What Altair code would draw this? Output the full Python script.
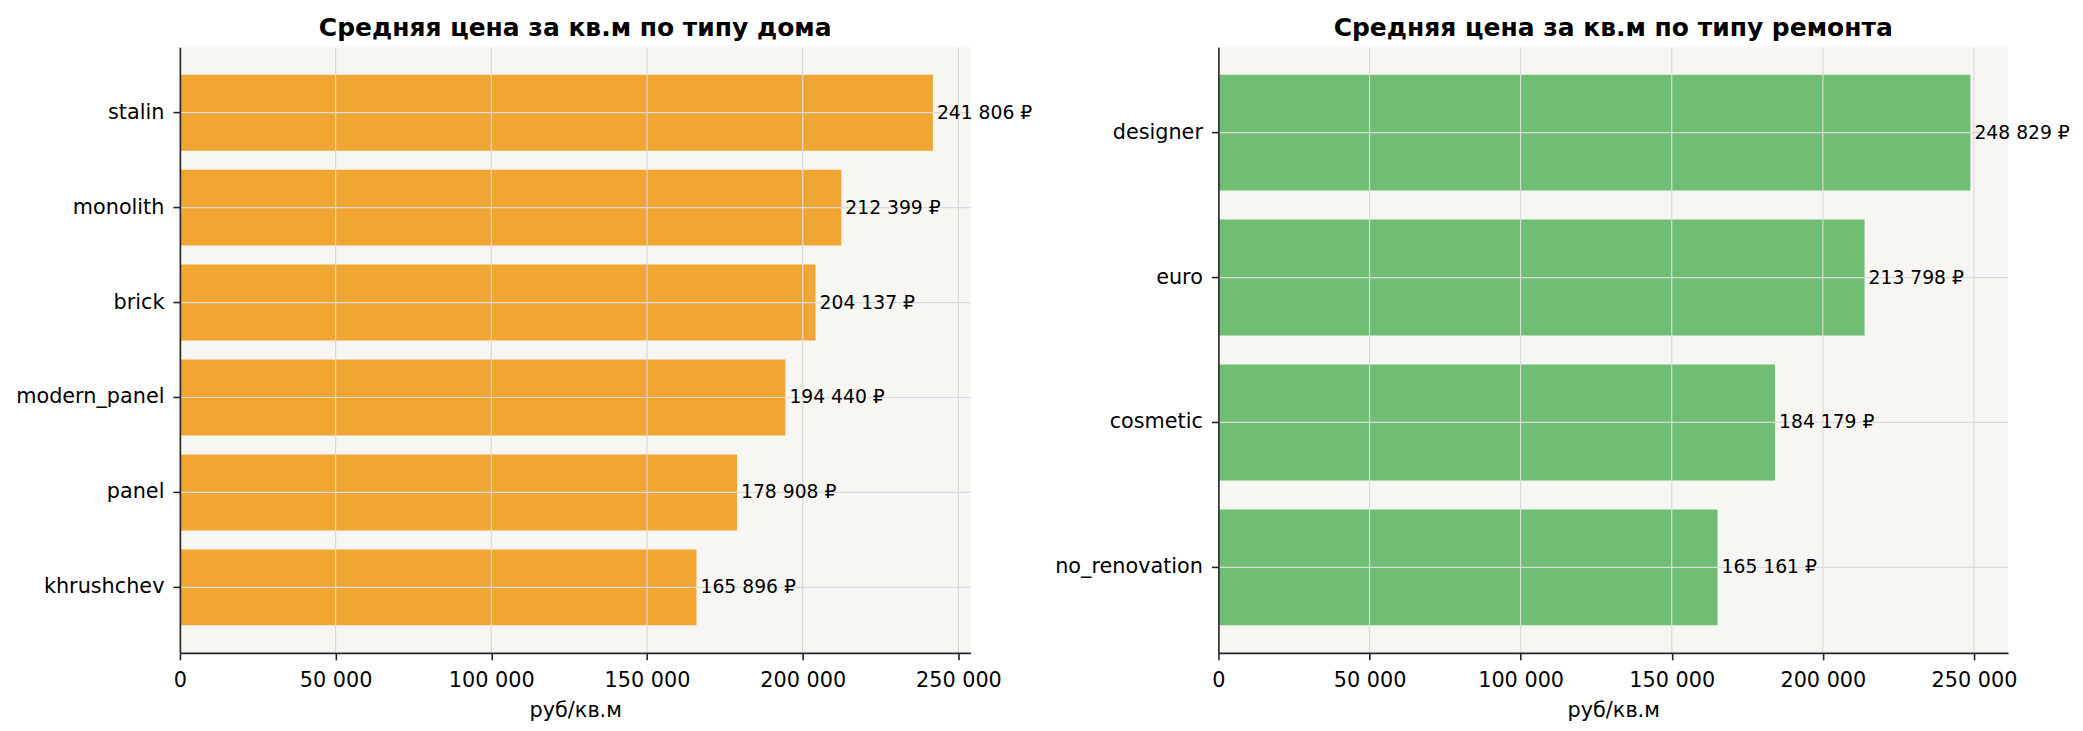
import altair as alt
import pandas as pd

house_types = ["stalin", "monolith", "brick", "modern_panel", "panel", "khrushchev"]
house_prices = [241806, 212399, 204137, 194440, 178908, 165896]
renov_types = ["designer", "euro", "cosmetic", "no_renovation"]
renov_prices = [248829, 213798, 184179, 165161]
x_ticks = [0, 50000, 100000, 150000, 200000, 250000]

FONT = "DejaVu Sans"
ORANGE = "#F1A533"
GREEN = "#6FBE73"
BG = "#F7F6F3"
GRID = "#DADADA"
H = 606


def fmt(v):
    return f"{v:,}".replace(",", " ") + " ₽"


def panel(cats, vals, color, title, width):
    n = len(cats)
    po = 0.05 * n - 0.01
    xmax = max(vals) * 1.05
    df = pd.DataFrame({"cat": cats, "val": vals, "lab": [fmt(v) for v in vals]})
    ticks_df = pd.DataFrame({"t": x_ticks})
    y = alt.Y(
        "cat:N",
        sort=cats,
        title=None,
        scale=alt.Scale(paddingInner=0.2, paddingOuter=po),
        axis=alt.Axis(grid=False, bandPosition=0.5, labelPadding=9, zindex=1),
    )
    x = alt.X(
        "val:Q",
        title="руб/кв.м",
        scale=alt.Scale(domain=[0, xmax], nice=False, zero=True),
        axis=alt.Axis(
            values=x_ticks,
            grid=False,
            labelExpr="replace(format(datum.value, ','), ',', ' ')",
            labelFlush=False,
            labelPadding=11,
            titlePadding=10,
            zindex=1,
        ),
    )
    base = alt.Chart(df)
    bars = base.mark_bar(color=color).encode(y=y, x=x)
    vgrid = alt.Chart(ticks_df).mark_rule(color=GRID, strokeWidth=1.2).encode(
        x=alt.X("t:Q")
    )
    hgrid = base.mark_rule(color=GRID, strokeWidth=1.2).encode(
        y=alt.Y("cat:N", sort=cats)
    )
    text = base.mark_text(
        align="left", baseline="middle", dx=4, font=FONT, fontSize=18.75, color="black"
    ).encode(y=alt.Y("cat:N", sort=cats), x=alt.X("val:Q"), text="lab:N")
    return alt.layer(bars, vgrid, hgrid, text).properties(
        width=width, height=H, title=alt.TitleParams(title)
    )


left = panel(house_types, house_prices, ORANGE, "Средняя цена за кв.м по типу дома", 791)
right = panel(renov_types, renov_prices, GREEN, "Средняя цена за кв.м по типу ремонта", 790)

chart = (
    alt.hconcat(left, right, spacing=248, bounds="flush")
    .properties(padding={"left": 7, "top": 7, "right": 5, "bottom": 5})
    .configure_view(fill=BG, strokeWidth=0)
    .configure_axis(
        domainColor="#262626",
        domainWidth=1.6,
        tickColor="#262626",
        tickWidth=1.6,
        tickSize=7,
        labelFont=FONT,
        labelFontSize=20.8,
        labelColor="black",
        titleFont=FONT,
        titleFontSize=20.8,
        titleColor="black",
        titleFontWeight="normal",
        zindex=1,
    )
    .configure_title(
        font=FONT, fontSize=25, fontWeight="bold", color="black", anchor="middle", offset=6
    )
)

chart.save("out.html", embed_options={"renderer": "svg", "actions": False})
